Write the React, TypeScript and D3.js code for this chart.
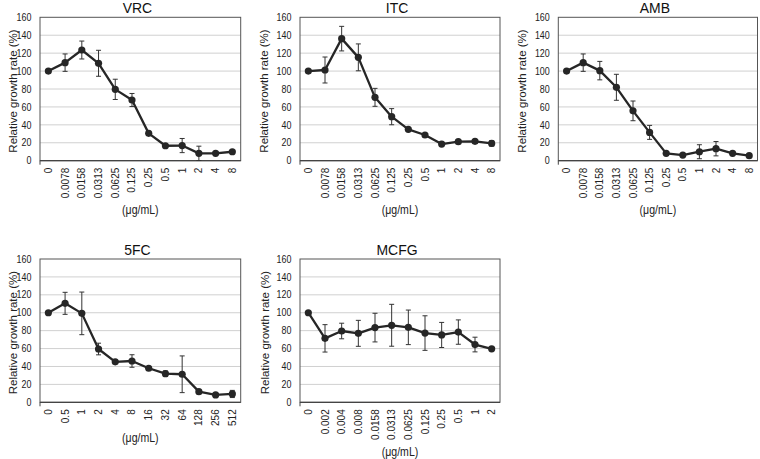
import React from "react";
import * as d3 from "d3";

// ---- data ----
const vrcDoses = ["0", "0.0078", "0.0158", "0.0313", "0.0625", "0.125", "0.25", "0.5", "1", "2", "4", "8"];
const vrcMeans = [100, 109.4, 123.5, 108.7, 79.6, 67.7, 30.5, 16.7, 16.9, 8.2, 8.2, 10];
const vrcErrors = [0.8, 9.7, 10, 14.5, 11.3, 7.3, 1.5, 1.2, 7.9, 8, 1.5, 1.5];

const itcDoses = ["0", "0.0078", "0.0158", "0.0313", "0.0625", "0.125", "0.25", "0.5", "1", "2", "4", "8"];
const itcMeans = [100, 101.2, 136.2, 115.3, 70.7, 49.1, 35, 28.7, 18.6, 21.2, 21.6, 19.3];
const itcErrors = [0.8, 14.5, 13.7, 15, 10, 9, 2, 1.5, 2, 2, 2, 3];

const ambDoses = ["0", "0.0078", "0.0158", "0.0313", "0.0625", "0.125", "0.25", "0.5", "1", "2", "4", "8"];
const ambMeans = [100, 109.4, 100.5, 81.9, 55.6, 31.6, 8.2, 6.3, 10, 13.4, 8.2, 5.6];
const ambErrors = [0.8, 9.7, 10.3, 14.5, 11, 7.8, 1, 1, 7.8, 8, 1.5, 1];

const fcDoses = ["0", "0.5", "1", "2", "4", "8", "16", "32", "64", "128", "256", "512"];
const fcMeans = [100, 110.5, 99.3, 59.5, 45.2, 46.1, 38, 32, 31.3, 11.9, 8.2, 9.3];
const fcErrors = [0.8, 12.3, 23.8, 6.5, 1.5, 7, 1.5, 3, 20.5, 1.5, 1, 4];

const mcfgDoses = ["0", "0.002", "0.004", "0.008", "0.0158", "0.0313", "0.0625", "0.125", "0.25", "0.5", "1", "2"];
const mcfgMeans = [100, 71.4, 79.6, 77, 83.4, 86, 83.7, 77.3, 75.2, 78.4, 64.5, 59.7];
const mcfgErrors = [0.8, 15.3, 8.7, 14.5, 16, 23.4, 19.3, 19.3, 14, 13.6, 8.2, 1];

const drugNames = ["VRC", "ITC", "AMB", "5FC", "MCFG"];
const yTicks = [0, 20, 40, 60, 80, 100, 120, 140, 160];
const yLabel = "Relative growth rate (%)";
const unitLabel = "(μg/mL)";

const seriesDoses = [vrcDoses, itcDoses, ambDoses, fcDoses, mcfgDoses];
const seriesMeans = [vrcMeans, itcMeans, ambMeans, fcMeans, mcfgMeans];
const seriesErrors = [vrcErrors, itcErrors, ambErrors, fcErrors, mcfgErrors];

// ---- layout ----
const W = 760;
const H = 459;
const FONT = "'Liberation Sans', Arial, Helvetica, sans-serif";
const SQ = 0.86; // horizontal squash of horizontal text
const panelBoxes = [
  { x0: 40, x1: 240.7, y0: 17.3, y1: 160.7, labelOff: 27.5 },
  { x0: 300, x1: 500, y0: 17.3, y1: 160.7, labelOff: 36.5 },
  { x0: 558.3, x1: 757.5, y0: 17.3, y1: 160.7, labelOff: 36 },
  { x0: 40, x1: 240.7, y0: 259, y1: 402.3, labelOff: 27 },
  { x0: 300, x1: 500, y0: 259, y1: 402.3, labelOff: 35.5 },
];

const TICK_FS = 10;
function approxWidth(s: string, fs: number) {
  let w = 0;
  for (const c of s) w += c === "." ? 0.278 : 0.556;
  return w * fs;
}

function Panel({ idx }: { idx: number }) {
  const box = panelBoxes[idx];
  const doses = seriesDoses[idx];
  const means = seriesMeans[idx];
  const errs = seriesErrors[idx];
  const x = d3.scaleBand<string>().domain(doses).range([box.x0, box.x1]).padding(0);
  const y = d3.scaleLinear().domain([0, 160]).range([box.y1, box.y0]);
  const cx = (d: string) => (x(d) as number) + x.bandwidth() / 2;
  const pts: [number, number][] = doses.map((d, i) => [cx(d), y(means[i])]);
  const line = d3.line()(pts) as string;
  const maxLab = d3.max(doses, (d) => approxWidth(d, TICK_FS)) as number;
  const unitY = box.y1 + 7 + maxLab + 16;
  const midX = (box.x0 + box.x1) / 2;
  const midY = (box.y0 + box.y1) / 2;
  return (
    <g>
      {yTicks.filter((t) => t > 0 && t < 160).map((t) => (
        <line key={t} x1={box.x0} x2={box.x1} y1={y(t)} y2={y(t)} stroke="#d0d0d0" strokeWidth={1} />
      ))}
      <rect x={box.x0} y={box.y0} width={box.x1 - box.x0} height={box.y1 - box.y0} fill="none" stroke="#555" strokeWidth={1} />
      <line x1={box.x0} x2={box.x1} y1={box.y1} y2={box.y1} stroke="#444" strokeWidth={1.2} />
      <line x1={box.x0} x2={box.x0} y1={box.y1} y2={box.y1 + 4} stroke="#444" strokeWidth={1} />
      {yTicks.map((t) => (
        <text
          key={t}
          transform={`translate(${box.x0 - 8.5},${y(t)}) scale(${SQ},1)`}
          dy="0.35em"
          textAnchor="end"
          fontSize={10.4}
          fill="#222"
          fontFamily={FONT}
        >
          {t}
        </text>
      ))}
      <text
        transform={`translate(${box.x0 - box.labelOff},${midY + 2}) rotate(-90)`}
        textAnchor="middle"
        dy="0.35em"
        fontSize={11.5}
        fill="#222"
        fontFamily={FONT}
      >
        {yLabel}
      </text>
      {doses.map((d) => (
        <text
          key={d}
          transform={`translate(${cx(d)},${box.y1 + 7}) rotate(-90)`}
          textAnchor="end"
          dy="0.35em"
          fontSize={TICK_FS}
          fill="#222"
          fontFamily={FONT}
        >
          {d}
        </text>
      ))}
      <text
        transform={`translate(${midX},${unitY}) scale(${SQ + 0.02},1)`}
        textAnchor="middle"
        fontSize={12}
        fill="#222"
        fontFamily={FONT}
      >
        {unitLabel}
      </text>
      <text
        transform={`translate(${midX - 3},${box.y0 - 4.3}) scale(0.9,1)`}
        textAnchor="middle"
        fontSize={15.5}
        fill="#111"
        fontFamily={FONT}
      >
        {drugNames[idx]}
      </text>
      {doses.map((d, i) => {
        const xx = cx(d);
        const top = y(means[i] + errs[i]);
        const bot = y(Math.max(0, means[i] - errs[i]));
        return (
          <g key={"e" + d} stroke="#333" strokeWidth={1}>
            <line x1={xx} x2={xx} y1={top} y2={bot} />
            <line x1={xx - 2.5} x2={xx + 2.5} y1={top} y2={top} />
            <line x1={xx - 2.5} x2={xx + 2.5} y1={bot} y2={bot} />
          </g>
        );
      })}
      <path d={line} fill="none" stroke="#262626" strokeWidth={2.3} strokeLinejoin="round" />
      {pts.map((p, i) => (
        <circle key={"p" + i} cx={p[0]} cy={p[1]} r={3.6} fill="#262626" />
      ))}
    </g>
  );
}

export default function App() {
  return (
    <svg
      width={W}
      height={H}
      viewBox={`0 0 ${W} ${H}`}
      style={{ position: "fixed", left: 0, top: 0, background: "#fff", display: "block" }}
    >
      <rect x={0} y={0} width={W} height={H} fill="#fff" />
      {drugNames.map((_, i) => (
        <Panel key={i} idx={i} />
      ))}
    </svg>
  );
}
